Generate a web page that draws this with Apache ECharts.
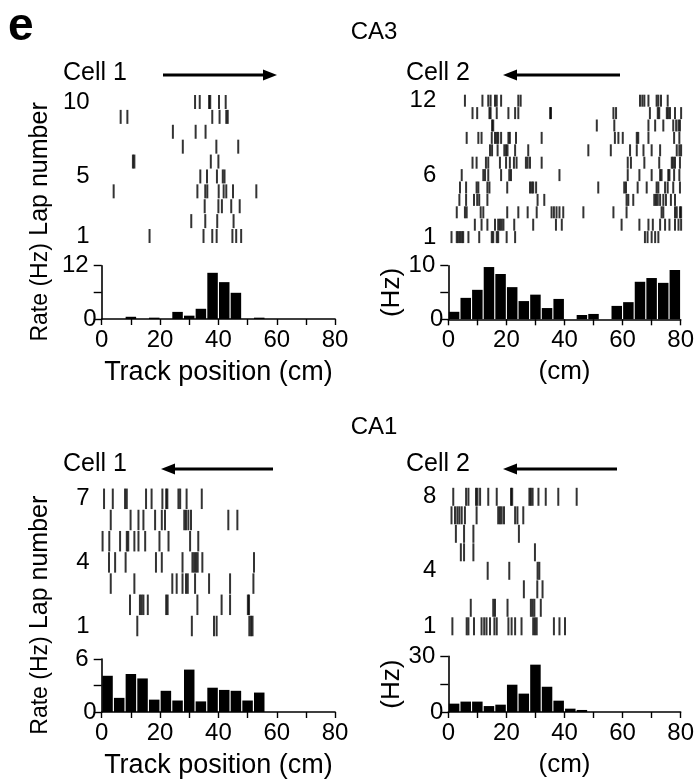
<!DOCTYPE html>
<html>
<head>
<meta charset="utf-8">
<title>Place cells CA3 / CA1</title>
<script src="https://cdn.jsdelivr.net/npm/echarts@6/dist/echarts.min.js"></script>
<style>
  html, body { margin: 0; padding: 0; background: #fff; }
  #main { width: 697px; height: 780px; }
</style>
</head>
<body>
<div id="main"></div>
<script>
// rate histograms use 4 cm bins over the 80 cm track
var binWidth = 4;

// spike positions (cm) per lap, lap 1 first
var ca3Cell1Laps = [
  [16.4, 34.9, 37.9, 39.4, 44.8, 46.1, 47.8],
  [30.7, 35.5, 39.6, 45.2],
  [35.3, 40.0, 41.2, 44.4, 47.3],
  [4.1, 32.8, 35.5, 36.2, 40.1, 41.8, 42.7, 45.0, 53.0],
  [33.8, 36.1, 39.5, 41.5, 42.1],
  [10.7, 11.2, 37.4, 40.0],
  [27.8, 39.3, 46.8],
  [24.4, 32.2, 35.6],
  [6.5, 8.8, 37.9, 40.4, 42.7, 43.2],
  [32.0, 33.6, 36.8, 37.2, 40.2, 42.5]
];
var ca3Cell2Laps = [
  [1.1, 2.9, 3.4, 4.0, 4.6, 5.1, 6.9, 10.6, 14.9, 15.4, 16.6, 17.1, 20.0, 22.9, 67.4, 68.3, 69.7, 70.9, 72.0],
  [9.1, 11.4, 13.4, 16.0, 17.1, 17.7, 18.3, 18.9, 22.6, 29.1, 36.9, 38.9, 59.4, 65.5, 68.6, 70.1, 72.6, 74.3, 75.8, 77.7, 78.9, 79.8],
  [2.9, 5.7, 6.3, 11.1, 12.0, 20.2, 24.0, 27.2, 30.3, 35.4, 36.2, 37.1, 38.1, 39.4, 46.3, 56.6, 61.1, 73.1, 73.7, 77.7, 78.3, 79.4, 79.8],
  [3.8, 6.1, 8.8, 9.9, 10.6, 13.4, 30.6, 32.9, 61.1, 61.7, 63.4, 70.6, 71.2, 71.8, 72.6, 73.7, 74.6, 76.3, 77.7],
  [4.0, 6.1, 9.7, 10.3, 13.4, 14.1, 20.2, 28.0, 28.6, 29.1, 30.1, 51.4, 60.3, 60.9, 64.9, 68.0, 71.4, 72.0, 74.3, 75.2, 77.1, 79.4],
  [4.6, 12.0, 12.6, 13.7, 18.1, 20.9, 21.5, 38.1, 61.5, 65.5, 69.7, 72.6, 73.1, 75.4, 75.8, 77.4, 79.2],
  [8.3, 9.7, 12.9, 13.7, 17.7, 19.8, 21.1, 22.5, 23.4, 26.6, 27.2, 28.0, 32.0, 61.5, 62.6, 67.2, 72.3, 76.6, 77.1, 77.7, 79.4],
  [14.3, 15.0, 16.9, 19.2, 19.8, 20.3, 22.9, 27.4, 48.0, 55.7, 62.3, 64.6, 66.9, 69.7, 72.6, 78.3, 79.2, 79.8],
  [6.3, 10.3, 11.4, 14.9, 16.0, 16.6, 17.1, 18.1, 20.6, 21.1, 23.2, 32.0, 57.1, 58.3, 59.8, 64.6, 65.1, 68.6, 77.4, 79.2],
  [15.0, 15.4, 50.9, 56.9, 68.6, 70.9, 73.7, 77.1, 78.1, 78.9, 79.4],
  [8.3, 9.9, 14.1, 14.5, 16.6, 20.6, 22.9, 24.0, 34.9, 35.2, 56.6, 57.5, 69.1, 71.8, 72.3, 74.9, 75.4, 76.0, 77.7, 79.8],
  [5.7, 11.7, 13.7, 14.5, 16.0, 16.6, 18.1, 24.0, 24.8, 65.7, 66.5, 67.2, 68.6, 71.4, 72.0, 72.9, 75.2]
];
var ca1Cell1Laps = [
  [12.2, 30.9, 38.5, 39.4, 50.6, 51.2, 51.7],
  [9.7, 13.1, 13.7, 14.3, 15.8, 22.1, 22.6, 32.8, 41.1, 44.0, 50.1, 50.5],
  [3.1, 11.2, 24.2, 25.7, 27.7, 28.9, 29.5, 32.0, 36.8, 44.0, 52.0],
  [2.5, 4.6, 8.2, 18.6, 20.6, 27.7, 31.1, 31.7, 32.3, 32.9, 34.5, 52.2],
  [0.3, 2.6, 6.3, 8.6, 9.1, 11.2, 12.6, 14.9, 19.8, 22.9, 30.3, 33.1],
  [3.1, 9.9, 12.6, 14.3, 18.3, 20.6, 21.7, 28.3, 28.9, 29.7, 30.6, 43.4, 46.5],
  [0.8, 3.8, 8.0, 8.6, 15.2, 17.1, 20.8, 22.1, 22.5, 26.3, 26.9, 29.1, 34.3]
];
var ca1Cell2Laps = [
  [1.4, 6.3, 6.9, 8.8, 11.4, 12.3, 13.1, 14.3, 15.8, 16.6, 20.6, 21.7, 22.9, 25.1, 29.1, 29.7, 30.3, 36.2, 38.1, 40.0],
  [7.7, 15.4, 16.0, 20.3, 28.3, 28.9, 29.5, 31.7],
  [25.9, 30.5, 32.3],
  [13.5, 20.9, 30.6, 31.2],
  [4.3, 5.4, 8.6, 29.7],
  [2.6, 5.4, 8.6, 24.2],
  [1.1, 2.3, 3.1, 3.8, 4.6, 5.7, 9.7, 17.1, 17.7, 18.3, 19.1, 22.9, 23.7, 25.7],
  [1.7, 6.1, 6.9, 9.5, 10.0, 10.9, 13.7, 16.6, 21.5, 21.9, 27.8, 28.3, 28.9, 30.9, 33.4, 37.7, 44.0]
];

// firing rate (Hz) per 4 cm bin, 0-4 cm first
var ca3Cell1Rate = [0, 0, 0.5, 0, 0.3, 0, 1.6, 0.75, 2.3, 10.4, 8.3, 5.9, 0, 0.3, 0, 0, 0, 0, 0, 0];
var ca3Cell2Rate = [1.4, 4.0, 5.5, 9.75, 8.45, 6.0, 3.4, 4.6, 2.1, 3.8, 0, 0.8, 1.0, 0, 2.5, 3.2, 7.0, 7.7, 6.8, 9.2];
var ca1Cell1Rate = [4.1, 1.6, 4.3, 3.8, 1.4, 2.4, 1.3, 4.8, 1.2, 2.75, 2.5, 2.4, 1.3, 2.2, 0, 0, 0, 0, 0, 0];
var ca1Cell2Rate = [4.5, 5.6, 5.6, 3.2, 3.95, 14.7, 9.9, 25.5, 13.6, 6.1, 1.8, 1.1, 0, 0, 0, 0, 0, 0, 0, 0];

// labelled laps and rate-axis tops
var ca3Cell1LapTicks = [1, 5, 10];
var ca3Cell2LapTicks = [1, 6, 12];
var ca1Cell1LapTicks = [1, 4, 7];
var ca1Cell2LapTicks = [1, 4, 8];
var rateMax = [12, 10, 6, 30];
var trackTicks = [0, 20, 40, 60, 80];

var FONT = '"Liberation Sans", Arial, Helvetica, sans-serif';

var panels = [
  { laps: ca3Cell1Laps, rate: ca3Cell1Rate, lapTicks: ca3Cell1LapTicks, max: rateMax[0],
    left: 101.7, rTop: 87.1, rH: 163.8, spike: 14, hTop: 265.7, hH: 53.3, leftCol: true },
  { laps: ca3Cell2Laps, rate: ca3Cell2Rate, lapTicks: ca3Cell2LapTicks, max: rateMax[1],
    left: 448.3, rTop: 88.3, rH: 161.2, spike: 12, hTop: 265.7, hH: 53.6, leftCol: false },
  { laps: ca1Cell1Laps, rate: ca1Cell1Rate, lapTicks: ca1Cell1LapTicks, max: rateMax[2],
    left: 101.7, rTop: 477.6, rH: 169.6, spike: 20.5, hTop: 659, hH: 53, leftCol: true },
  { laps: ca1Cell2Laps, rate: ca1Cell2Rate, lapTicks: ca1Cell2LapTicks, max: rateMax[3],
    left: 448.3, rTop: 478.3, rH: 166.5, spike: 18, hTop: 656.3, hH: 55.7, leftCol: false }
];

function rasterData(laps) {
  var out = [];
  laps.forEach(function (spikes, i) {
    spikes.forEach(function (x) { out.push([x, i + 1]); });
  });
  return out;
}
function rateData(rates) {
  return rates.map(function (v, i) { return [i * binWidth + binWidth / 2, v]; });
}

var grids = [], xAxes = [], yAxes = [], series = [];
panels.forEach(function (p) {
  var w = 233.4;
  var nLaps = p.laps.length;
  // raster
  var gi = grids.length;
  grids.push({ left: p.left, top: p.rTop, width: w, height: p.rH });
  xAxes.push({ gridIndex: gi, type: 'value', min: 0, max: 80, show: false });
  yAxes.push({
    gridIndex: gi, type: 'value', min: 0, max: nLaps + 1, interval: 1,
    axisLine: { show: false }, axisTick: { show: false }, splitLine: { show: false },
    axisLabel: {
      margin: 12, color: '#000', fontSize: 24, fontFamily: FONT,
      formatter: function (v) { return p.lapTicks.indexOf(v) >= 0 ? String(v) : ''; }
    },
    name: p.leftCol ? 'Lap number' : '', nameLocation: 'middle', nameRotate: 90, nameGap: 49,
    nameTextStyle: { color: '#000', fontSize: 25, fontFamily: FONT }
  });
  series.push({
    type: 'scatter', xAxisIndex: gi, yAxisIndex: gi, data: rasterData(p.laps),
    symbol: 'rect', symbolSize: [2, p.spike], itemStyle: { color: '#000' }, silent: true
  });
  // histogram
  gi = grids.length;
  grids.push({ left: p.left, top: p.hTop, width: w, height: p.hH });
  xAxes.push({
    gridIndex: gi, type: 'value', min: 0, max: 80, interval: 10,
    axisLine: { lineStyle: { color: '#000', width: 1.6 } },
    axisTick: { length: 6, lineStyle: { color: '#000', width: 1.4 } },
    splitLine: { show: false },
    axisLabel: {
      margin: 9, color: '#000', fontSize: 24, fontFamily: FONT,
      formatter: function (v) { return trackTicks.indexOf(v) >= 0 ? String(v) : ''; }
    },
    name: p.leftCol ? 'Track position (cm)' : '(cm)', nameLocation: 'middle', nameGap: 40,
    nameTextStyle: { color: '#000', fontSize: p.leftCol ? 27 : 26, fontFamily: FONT }
  });
  yAxes.push({
    gridIndex: gi, type: 'value', min: 0, max: p.max, interval: p.max / 2,
    axisLine: { show: true, lineStyle: { color: '#000', width: 1.6 } },
    axisTick: { show: true, length: 8, lineStyle: { color: '#000', width: 1.4 } },
    splitLine: { show: false },
    axisLabel: {
      margin: 5, color: '#000', fontSize: 24, fontFamily: FONT,
      formatter: function (v) {
        if (v === 0) return '0';
        if (v === p.max) return '{m|' + v + '}';
        return '';
      },
      rich: { m: { fontSize: 24, fontFamily: FONT, color: '#000', padding: [0, 8, 0, 0] } }
    },
    name: p.leftCol ? 'Rate (Hz)' : '(Hz)', nameLocation: 'middle', nameRotate: 90,
    nameGap: p.leftCol ? 50 : 40,
    nameTextStyle: { color: '#000', fontSize: p.leftCol ? 23 : 26, fontFamily: FONT }
  });
  series.push({
    type: 'bar', xAxisIndex: gi, yAxisIndex: gi, data: rateData(p.rate),
    barWidth: 10.5, itemStyle: { color: '#000' }, silent: true
  });
});

function arrow(tail, head, y) {
  var dir = head > tail ? 1 : -1;
  var base = head - dir * 14;
  return {
    type: 'group', children: [
      { type: 'line', shape: { x1: tail, y1: y, x2: base, y2: y }, style: { stroke: '#000', lineWidth: 3 } },
      { type: 'polygon', shape: { points: [[head, y], [base, y - 5.5], [base, y + 5.5]] }, style: { fill: '#000' } }
    ]
  };
}
function label(txt, x, y, size, weight, align) {
  return {
    type: 'text', x: x, y: y,
    style: { text: txt, fill: '#000', font: (weight || 'normal') + ' ' + size + 'px ' + FONT,
             textAlign: align || 'left', textVerticalAlign: 'middle' }
  };
}

var chart = echarts.init(document.getElementById('main'), null, { renderer: 'canvas' });
chart.setOption({
  animation: false,
  backgroundColor: '#fff',
  grid: grids,
  xAxis: xAxes,
  yAxis: yAxes,
  series: series,
  graphic: [
    label('e', 8, 27, 46, 'bold'),
    label('CA3', 374, 32, 24, 'normal', 'center'),
    label('Cell 1', 63, 73, 25),
    label('Cell 2', 406, 73, 25),
    arrow(163, 277, 75),
    arrow(620, 503, 75),
    label('CA1', 374, 427, 24, 'normal', 'center'),
    label('Cell 1', 63, 464, 25),
    label('Cell 2', 406, 464, 25),
    arrow(273, 161, 469),
    arrow(617, 503, 469)
  ]
});
</script>
</body>
</html>
